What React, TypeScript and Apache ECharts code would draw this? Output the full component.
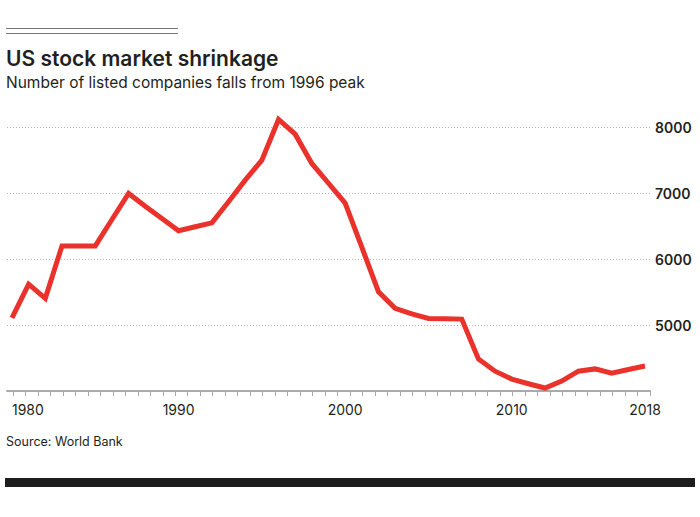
import { useEffect, useRef } from "react";
import * as echarts from "echarts";

// Number of listed domestic companies in the US, by year
const years = [
  1980, 1981, 1982, 1983, 1984, 1985, 1986, 1987, 1988, 1989,
  1990, 1991, 1992, 1993, 1994, 1995, 1996, 1997, 1998, 1999,
  2000, 2001, 2002, 2003, 2004, 2005, 2006, 2007, 2008, 2009,
  2010, 2011, 2012, 2013, 2014, 2015, 2016, 2017, 2018,
];
const listedCompanies = [
  5110, 5620, 5405, 6200, 6200, 6200, 6600, 6995, 6800, 6615,
  6430, 6490, 6550, 6870, 7197, 7500, 8117, 7894, 7450, 7150,
  6850, 6180, 5505, 5253, 5170, 5100, 5095, 5090, 4485, 4300,
  4180, 4110, 4045, 4150, 4300, 4335, 4270, 4325, 4380,
];
const xLabelYears = [1980, 1990, 2000, 2010, 2018];
const yLabelValues = [5000, 6000, 7000, 8000];

const FONT = "Inter, Lato, 'Noto Sans', sans-serif";
const INK = "#231f20";

export default function App() {
  const chartRef = useRef<HTMLDivElement>(null);

  useEffect(() => {
    document.body.style.margin = "0";
    const chart = echarts.init(chartRef.current, null, { renderer: "svg" });

    const xMin = 1979.7;
    const xMax = 2018.3;
    // small decorative ticks along the x axis
    const tickValues: number[] = [];
    for (let v = xMax; v >= xMin - 1e-6; v -= 0.75) tickValues.push(v);

    const option = {
      animation: false,
      title: {
        text: "US stock market shrinkage",
        subtext: "Number of listed companies falls from 1996 peak",
        left: 6,
        top: 48,
        padding: 0,
        itemGap: 5,
        textStyle: { fontFamily: FONT, fontSize: 21, fontWeight: 600, color: INK },
        subtextStyle: { fontFamily: FONT, fontSize: 15.5, color: INK },
      },
      grid: { left: 7, right: 50, top: 114, bottom: 126, containLabel: false },
      xAxis: {
        type: "value",
        min: xMin,
        max: xMax,
        axisLine: { show: true, lineStyle: { color: "#aaaaaa", width: 2 } },
        axisTick: {
          show: true,
          customValues: tickValues,
          length: 5,
          lineStyle: { color: "#aaaaaa", width: 1 },
        },
        axisLabel: {
          customValues: xLabelYears,
          formatter: (v: number) => String(Math.round(v)),
          alignMinLabel: "left",
          fontFamily: FONT,
          fontSize: 14,
          color: INK,
          margin: 11,
        },
        splitLine: { show: false },
      },
      yAxis: {
        type: "value",
        position: "right",
        min: 4000,
        max: 8200,
        interval: 1000,
        axisLine: { show: false },
        axisTick: { show: false },
        axisLabel: {
          formatter: (v: number) => (yLabelValues.includes(v) ? String(v) : ""),
          fontFamily: FONT,
          fontSize: 14,
          fontWeight: 600,
          color: INK,
          margin: 5,
        },
        splitLine: {
          show: true,
          showMinLine: false,
          showMaxLine: false,
          lineStyle: { color: "#b5b5b5", width: 1, type: [1, 2] },
        },
      },
      series: [
        {
          type: "line",
          data: years.map((y, i) => [y, listedCompanies[i]]),
          showSymbol: false,
          clip: false,
          lineStyle: { color: "#e9322b", width: 5, join: "miter" },
        },
      ],
      graphic: [
        {
          type: "line",
          shape: { x1: 6, y1: 28.5, x2: 178, y2: 28.5 },
          style: { stroke: "#777777", lineWidth: 1 },
        },
        {
          type: "line",
          shape: { x1: 6, y1: 33.5, x2: 178, y2: 33.5 },
          style: { stroke: "#777777", lineWidth: 1 },
        },
        {
          type: "text",
          x: 6,
          y: 441,
          style: {
            text: "Source: World Bank",
            font: `12.5px ${FONT}`,
            fill: INK,
            verticalAlign: "middle",
          },
        },
        {
          type: "rect",
          shape: { x: 5, y: 478, width: 690, height: 9 },
          style: { fill: "#1d1d1d" },
        },
      ],
    };

    chart.setOption(option);
    return () => {
      chart.dispose();
    };
  }, []);

  return <div ref={chartRef} style={{ width: 700, height: 517 }}></div>;
}
